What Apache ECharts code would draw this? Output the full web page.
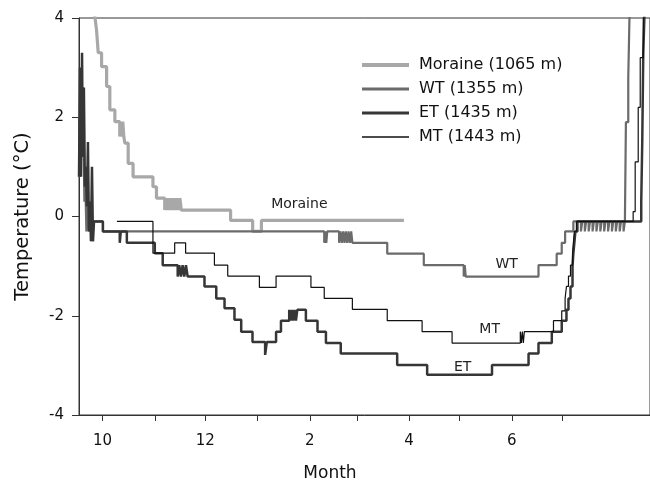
<!DOCTYPE html>
<html>
<head>
<meta charset="utf-8">
<script src="https://cdn.jsdelivr.net/npm/echarts@6/dist/echarts.min.js"></script>
<style>
  html, body { margin: 0; padding: 0; background: #fff; }
  #chart { width: 650px; height: 488px; }
</style>
</head>
<body>
<div id="chart"></div>
<script>
// x values are days since 1 October; each point holds until the next one (step line)
const monthStartDays = [0, 31, 61, 92, 123, 151, 182, 212, 243, 273];
const labelDays = [0, 61, 123, 182, 243];
const monthLabels = ['10', '12', '2', '4', '6'];

const moraine = [
  [-6, 4.5], [-4.6, 4.03], [-3.6, 3.76], [-2.6, 3.3], [-0.6, 3.02], [2.4, 2.62], [4.3, 2.15],
  [7.3, 1.91], [10.2, 1.61], [10.8, 1.91], [11.4, 1.61], [12.0, 1.91], [12.6, 1.61],
  [13.2, 1.48], [15.2, 1.07], [18.1, 0.8], [29.9, 0.6], [32.0, 0.37],
  [36.9, 0.13], [37.9, 0.37], [38.9, 0.13], [39.9, 0.37], [40.9, 0.13], [41.9, 0.37],
  [42.9, 0.13], [43.9, 0.37], [44.9, 0.13], [45.9, 0.37], [46.7, 0.13],
  [76.0, -0.08], [89.1, -0.3], [94.3, -0.08], [178.9, -0.08]
];

const wt = [
  [-14, 2.0], [-13.4, 0.8], [-12.8, 2.6], [-12.2, 1.5], [-11.7, 2.6], [-10.8, 0.3], [-10.2, 0.6],
  [-9.6, -0.3], [-8.7, 0.2], [-8.1, -0.3], [-7.5, -0.1], [-6.3, -0.5], [-5.7, -0.1],
  [0.2, -0.3], [131.6, -0.53], [132.2, -0.3], [132.8, -0.53], [133.4, -0.3],
  [140.4, -0.53], [141.2, -0.3], [142.0, -0.53], [142.8, -0.3], [143.6, -0.53], [144.4, -0.3],
  [145.2, -0.53], [146.0, -0.3], [146.8, -0.53], [147.6, -0.3], [148.3, -0.53],
  [169.0, -0.75], [190.7, -0.98], [214.4, -1.21], [215.0, -0.98], [215.6, -1.21],
  [258.8, -0.98], [269.6, -0.75], [272.6, -0.53], [274.6, -0.3], [279.5, -0.1],
  [284.0, -0.3], [284.8, -0.1], [286.3, -0.3], [287.1, -0.1], [288.6, -0.3], [289.4, -0.1],
  [290.9, -0.3], [291.7, -0.1], [293.2, -0.3], [294.0, -0.1], [295.5, -0.3], [296.3, -0.1],
  [297.8, -0.3], [298.6, -0.1], [300.1, -0.3], [300.9, -0.1], [302.4, -0.3], [303.2, -0.1],
  [304.7, -0.3], [305.5, -0.1], [307.0, -0.3], [307.8, -0.1], [309.3, -0.3], [310.1, -0.1],
  [310.7, 1.9], [312.1, 2.8], [313.1, 4.5]
];

const et = [
  [-14, 0.8], [-13.4, 3.0], [-12.8, 0.8], [-12.2, 3.3], [-11.7, 1.2], [-11.1, 2.6], [-10.5, 0.6],
  [-9.9, 1.0], [-9.3, 0.2], [-8.7, 1.5], [-8.1, -0.3], [-7.5, 0.3], [-6.9, -0.5], [-6.3, 1.0],
  [-5.7, -0.5], [-5.1, -0.1], [0.2, -0.3], [10.2, -0.53], [10.8, -0.3], [14.4, -0.53],
  [31.0, -0.74], [35.7, -0.98], [44.6, -1.21], [45.5, -0.98], [46.5, -1.21], [47.5, -0.98],
  [48.5, -1.21], [49.5, -0.98], [50.5, -1.21], [60.5, -1.41], [67.5, -1.65], [72.4, -1.85],
  [78.3, -2.08], [82.3, -2.32], [89.0, -2.53], [96.5, -2.79], [97.5, -2.53], [103.0, -2.32],
  [105.9, -2.1], [110.8, -1.88], [111.6, -2.1], [112.4, -1.88], [113.2, -2.1], [114.0, -1.88],
  [114.8, -2.1], [115.6, -1.88], [120.7, -2.1], [127.6, -2.32], [132.6, -2.55], [141.4, -2.76],
  [174.9, -2.99], [192.7, -3.19], [231.2, -2.99], [252.9, -2.76], [258.8, -2.55], [266.7, -2.32],
  [272.6, -2.1], [275.4, -1.88], [276.6, -1.65], [277.8, -1.41], [279.0, -1.0], [279.5, -0.74],
  [280.1, -0.53], [280.7, -0.3], [281.9, -0.1], [319.8, 0.3], [320.4, 1.5], [321.0, 3.3], [322.1, 4.5]
];

const mt = [
  [8.5, -0.1], [29.9, -0.74], [42.8, -0.53], [49.3, -0.74], [66.4, -0.98], [74.3, -1.2],
  [93.1, -1.43], [103.0, -1.2], [123.7, -1.43], [131.6, -1.65], [148.3, -1.87], [169.0, -2.1],
  [189.7, -2.32], [207.5, -2.55], [248.0, -2.32], [248.6, -2.55], [249.2, -2.32], [249.8, -2.55],
  [250.4, -2.32], [267.7, -2.1], [272.6, -1.9], [274.6, -1.65], [275.4, -1.41], [276.6, -1.2],
  [277.8, -0.98], [279.0, -0.75], [279.5, -0.53], [280.1, -0.3], [281.3, -0.1],
  [315.0, 0.1], [316.2, 1.1], [318.0, 2.2], [319.2, 3.2], [321.0, 4.5]
];

// in-plot labels: [day, temperature]
const lineLabels = {
  Moraine: [116.8, 0.25],
  WT: [239.9, -0.96],
  MT: [229.8, -2.27],
  ET: [213.8, -3.05]
};

const FONT = 'DejaVu Sans, Arial, sans-serif';

const chart = echarts.init(document.getElementById('chart'), null, { renderer: 'canvas' });

function makeSeries(name, data, color, width, legendName) {
  return {
    name: legendName,
    type: 'line',
    step: 'end',
    data: data,
    symbol: 'none',
    showSymbol: false,
    lineStyle: { color: color, width: width },
    itemStyle: { color: color },
    markPoint: {
      symbol: 'rect',
      symbolSize: 1,
      itemStyle: { color: 'rgba(0,0,0,0)' },
      label: { show: true, position: 'inside', formatter: name, color: '#222', fontSize: 14, fontFamily: FONT },
      data: [{ coord: lineLabels[name] }]
    }
  };
}

const hiddenDot = { color: 'rgba(0,0,0,0)', borderWidth: 0, opacity: 0 };

const option = {
  animation: false,
  backgroundColor: '#fff',
  grid: {
    show: true, left: 79, right: -2, top: 18, bottom: 73,
    borderColor: '#333', borderWidth: 1, backgroundColor: 'transparent'
  },
  legend: {
    orient: 'vertical',
    left: 355, top: 52,
    itemWidth: 47, itemHeight: 14, itemGap: 8,
    itemStyle: hiddenDot,
    textStyle: { fontSize: 16, color: '#111', fontFamily: FONT, padding: [0, 0, 0, 5] },
    data: [
      { name: 'Moraine (1065 m)', lineStyle: { width: 4 }, itemStyle: hiddenDot },
      { name: 'WT (1355 m)', lineStyle: { width: 3 }, itemStyle: hiddenDot },
      { name: 'ET (1435 m)', lineStyle: { width: 3 }, itemStyle: hiddenDot },
      { name: 'MT (1443 m)', lineStyle: { width: 1.5 }, itemStyle: hiddenDot }
    ]
  },
  xAxis: {
    type: 'value',
    min: -14, max: 325,
    name: 'Month', nameLocation: 'middle', nameGap: 50,
    nameTextStyle: { fontSize: 17, color: '#111', fontFamily: FONT, padding: [0, 69, 0, 0] },
    axisLine: { show: true, onZero: false, lineStyle: { color: '#333', width: 1 } },
    axisTick: { show: true, length: 6, customValues: monthStartDays, lineStyle: { color: '#333' } },
    axisLabel: {
      customValues: labelDays, margin: 19, fontSize: 15, color: '#111', fontFamily: FONT,
      formatter: function (v) { return monthLabels[labelDays.indexOf(v)]; }
    },
    splitLine: { show: false }
  },
  yAxis: {
    type: 'value',
    min: -4, max: 4, interval: 2,
    name: 'Temperature (°C)', nameLocation: 'middle', nameGap: 46,
    nameTextStyle: { fontSize: 19.5, color: '#111', fontFamily: FONT },
    axisLine: { show: true, onZero: false, lineStyle: { color: '#333', width: 1 } },
    axisTick: { show: true, length: 7, lineStyle: { color: '#333' } },
    axisLabel: { margin: 15, fontSize: 15, color: '#111', fontFamily: FONT },
    splitLine: { show: false }
  },
  series: [
    makeSeries('Moraine', moraine, '#a8a8a8', 3.2, 'Moraine (1065 m)'),
    makeSeries('WT', wt, '#6b6b6b', 2.2, 'WT (1355 m)'),
    makeSeries('ET', et, '#363636', 2.5, 'ET (1435 m)'),
    makeSeries('MT', mt, '#111111', 1.2, 'MT (1443 m)')
  ]
};

chart.setOption(option);
</script>
</body>
</html>
